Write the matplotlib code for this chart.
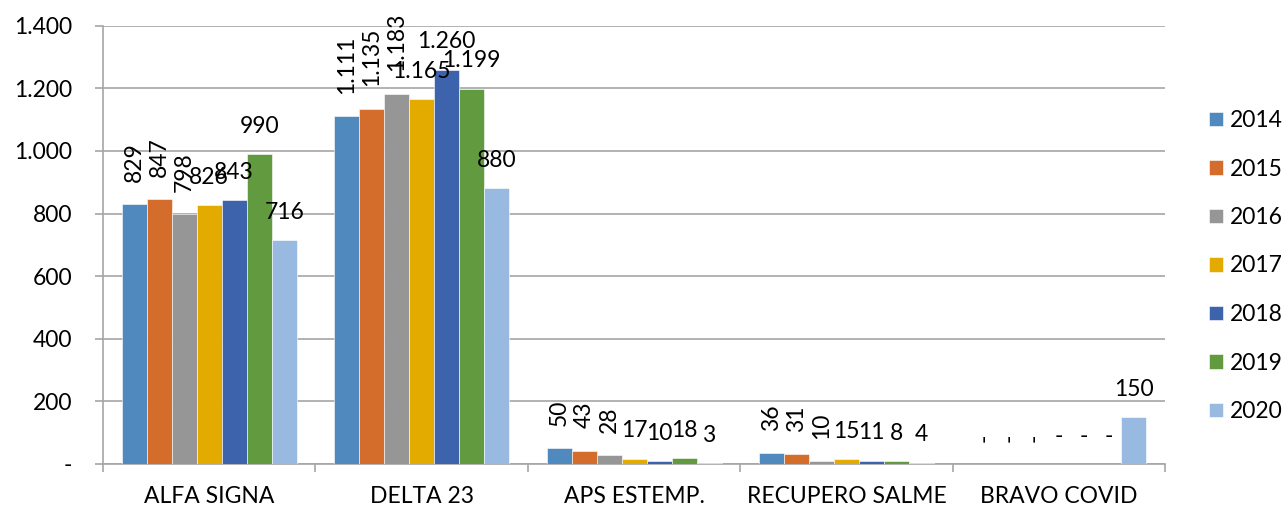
import numpy as np
from matplotlib import pyplot as plt
from matplotlib.ticker import FuncFormatter

categories = ["ALFA SIGNA", "DELTA 23", "APS ESTEMP.", "RECUPERO SALME", "BRAVO COVID"]
years = ["2014", "2015", "2016", "2017", "2018", "2019", "2020"]

# one list per year, one value per category
v2014 = [829, 1111, 50, 36, 0]
v2015 = [847, 1135, 43, 31, 0]
v2016 = [798, 1183, 28, 10, 0]
v2017 = [826, 1165, 17, 15, 0]
v2018 = [843, 1260, 10, 11, 0]
v2019 = [990, 1199, 18, 8, 0]
v2020 = [716, 880, 3, 4, 150]
series = [v2014, v2015, v2016, v2017, v2018, v2019, v2020]

colors = ["#4F89BD", "#D46D2C", "#969696", "#E3AA00", "#3D63AD", "#619A3F", "#98BAE0"]

plt.rcParams['font.family'] = ['Lato', 'DejaVu Sans']
FS = 16.5
GRID = "#A6A6A6"


def fmt(v):
    if v == 0:
        return "-"
    return f"{v:,.0f}".replace(",", ".")


def main():
    fig = plt.figure(figsize=(12.87, 5.08), dpi=100)
    ax = fig.add_axes([103 / 1287, 44 / 508, 1062 / 1287, 438.3 / 508])

    x = np.arange(len(categories))
    w = 25 / 212.4
    for i, (vals, col, yr) in enumerate(zip(series, colors, years)):
        pos = x + (i - 3) * w
        ax.bar(pos, vals, width=w, color=col, label=yr, edgecolor="white", linewidth=0.4, zorder=3)
        for px, v in zip(pos, vals):
            if i < 3:
                ax.annotate(fmt(v), (px, v), xytext=(0, 16), textcoords="offset points",
                            ha="center", va="bottom", rotation=90, fontsize=FS, zorder=4)
            else:
                ax.annotate(fmt(v), (px, v), xytext=(0, 20), textcoords="offset points",
                            ha="center", va="center", fontsize=FS, zorder=4)

    ax.set_xlim(-0.5, len(categories) - 0.5)
    ax.set_ylim(0, 1400)
    ax.set_yticks(range(0, 1401, 200))
    ax.yaxis.set_major_formatter(FuncFormatter(lambda v, p: fmt(v)))
    ax.yaxis.grid(True, color=GRID, linewidth=1.2, zorder=0)

    ax.set_xticks(x)
    ax.set_xticklabels(categories)
    ax.set_xticks(np.arange(-0.5, len(categories), 1), minor=True)
    ax.tick_params(axis="x", which="major", length=0, pad=16, labelsize=FS)
    ax.tick_params(axis="x", which="minor", length=6, width=1.2, color=GRID, direction="out")
    ax.tick_params(axis="y", length=6, width=1.2, color=GRID, labelsize=FS, pad=16)

    for s in ["top", "right"]:
        ax.spines[s].set_visible(False)
    for s in ["left", "bottom"]:
        ax.spines[s].set_color(GRID)
        ax.spines[s].set_linewidth(1.2)

    ax.legend(loc="upper left", bbox_to_anchor=(1106 / 1062, (464 - 110) / 438.3),
              frameon=False, fontsize=FS, handlelength=0.6, handleheight=0.6,
              handletextpad=0.3, labelspacing=1.2, borderaxespad=0, borderpad=0)

    fig.savefig("out.png", dpi=100)


if __name__ == '__main__':
    main()
